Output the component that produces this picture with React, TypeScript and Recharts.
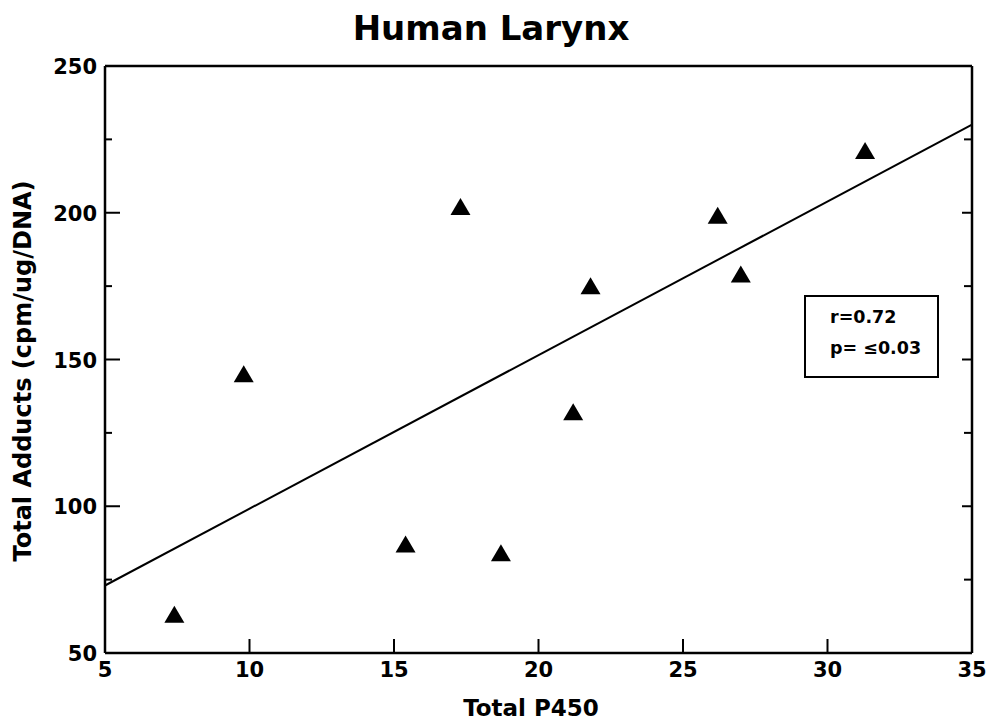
import { ScatterChart, Scatter, XAxis, YAxis, ReferenceLine } from 'recharts'

const FONT = '"DejaVu Sans", sans-serif'
const INK = '#000'

// ── Data ─────────────────────────────────────────────────────────────────────
const P450 = [7.4, 9.8, 15.4, 17.3, 18.7, 21.2, 21.8, 26.2, 27.0, 31.3]
const ADDUCTS = [63, 145, 87, 202, 84, 132, 175, 199, 179, 221]
const FIT_X = [5, 35]
const FIT_Y = [73, 230]
const X_TICKS = [5, 10, 15, 20, 25, 30, 35]
const Y_TICKS = [50, 75, 100, 125, 150, 175, 200, 225, 250]

const points = P450.map((x, i) => ({ x, y: ADDUCTS[i] }))

// ── Axis ticks (drawn inward) ────────────────────────────────────────────────
function XTick({ x, y, payload }: any) {
  const v = payload.value
  const edge = v === X_TICKS[0] || v === X_TICKS[X_TICKS.length - 1]
  return (
    <g>
      {!edge && <line x1={x} x2={x} y1={y} y2={y - 14} stroke={INK} strokeWidth={2} />}
      <text x={x} y={y + 24} textAnchor="middle" fontFamily={FONT} fontWeight={700} fontSize={21} fill={INK}>{v}</text>
    </g>
  )
}

function YTickLeft({ x, y, payload }: any) {
  const v = payload.value
  const major = v % 50 === 0
  return (
    <g>
      <line x1={x} x2={x + (major ? 15 : 7)} y1={y} y2={y} stroke={INK} strokeWidth={2} />
      {major && <text x={x - 8} y={y + 8} textAnchor="end" fontFamily={FONT} fontWeight={700} fontSize={21} fill={INK}>{v}</text>}
    </g>
  )
}

function YTickRight({ x, y, payload }: any) {
  const major = payload.value % 50 === 0
  return <line x1={x} x2={x - (major ? 10 : 8)} y1={y} y2={y} stroke={INK} strokeWidth={2} />
}

// filled triangle marker, ~20px wide
function Tri({ cx, cy }: any) {
  return <polygon points={`${cx - 10},${cy + 8} ${cx + 10},${cy + 8} ${cx},${cy - 9}`} fill={INK} />
}

export default function App() {
  return (
    <div style={{ position: 'absolute', left: 0, top: 0, width: 990, height: 727, background: '#fff' }}>
      <ScatterChart width={990} height={727} margin={{ top: 65, right: 17, bottom: 44, left: 0 }}>
        <XAxis xAxisId="b" dataKey="x" type="number" domain={[5, 35]} ticks={X_TICKS} height={30}
          axisLine={{ stroke: INK, strokeWidth: 2.5 }} tickLine={false} tickSize={0} tickMargin={0} tick={<XTick />} />
        <XAxis xAxisId="t" dataKey="x" orientation="top" type="number" domain={[5, 35]} ticks={X_TICKS} height={1}
          axisLine={{ stroke: INK, strokeWidth: 2.5 }} tickLine={false} tick={false} />
        <YAxis yAxisId="l" dataKey="y" type="number" domain={[50, 250]} ticks={Y_TICKS} width={105}
          axisLine={{ stroke: INK, strokeWidth: 2.5 }} tickLine={false} tickSize={0} tickMargin={0} tick={<YTickLeft />} />
        <YAxis yAxisId="r" dataKey="y" orientation="right" type="number" domain={[50, 250]} ticks={Y_TICKS} width={1}
          axisLine={{ stroke: INK, strokeWidth: 2.5 }} tickLine={false} tickSize={0} tickMargin={0} tick={<YTickRight />} />
        <ReferenceLine xAxisId="b" yAxisId="l" segment={[{ x: FIT_X[0], y: FIT_Y[0] }, { x: FIT_X[1], y: FIT_Y[1] }]}
          stroke={INK} strokeWidth={2} />
        <Scatter xAxisId="t" yAxisId="r" data={points} shape={() => <g />} isAnimationActive={false} />
        <Scatter xAxisId="b" yAxisId="l" data={points} shape={<Tri />} isAnimationActive={false} />
      </ScatterChart>

      <svg width={990} height={727} style={{ position: 'absolute', left: 0, top: 0, pointerEvents: 'none' }}>
        <text x={491} y={40} textAnchor="middle" fontFamily={FONT} fontWeight={700} fontSize={34} fill={INK}>Human Larynx</text>
        <text x={531} y={716} textAnchor="middle" fontFamily={FONT} fontWeight={700} fontSize={23} fill={INK}>Total P450</text>
        <text transform="translate(31,371) rotate(-90)" textAnchor="middle" fontFamily={FONT} fontWeight={700} fontSize={24} fill={INK}>
          Total Adducts (cpm/ug/DNA)
        </text>
        <rect x={805} y={296} width={133} height={81} fill="#fff" stroke={INK} strokeWidth={2} />
        <text x={830} y={323} fontFamily={FONT} fontWeight={700} fontSize={17.5} fill={INK}>r=0.72</text>
        <text x={830} y={354} fontFamily={FONT} fontWeight={700} fontSize={17.5} fill={INK}>p= ≤0.03</text>
      </svg>
    </div>
  )
}
